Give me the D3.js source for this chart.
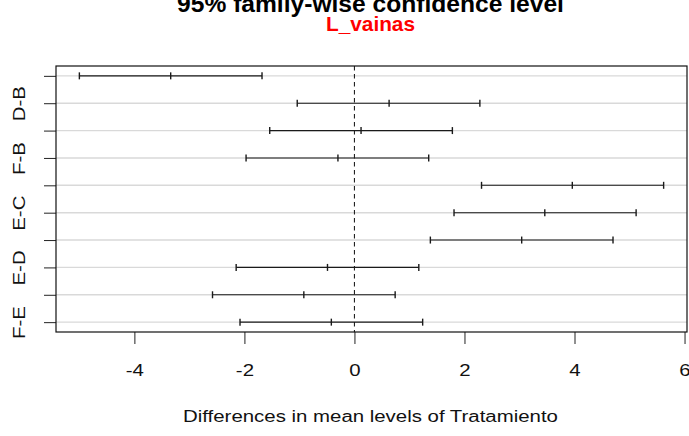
<!DOCTYPE html>
<html>
<head>
<meta charset="utf-8">
<script src="https://cdn.jsdelivr.net/npm/d3@7"></script>
<style>
  html, body { margin: 0; padding: 0; background: #ffffff; }
  svg { display: block; }
  text { font-family: "Liberation Sans", Arial, sans-serif; }
</style>
</head>
<body>
<script>
// Tukey HSD pairwise comparisons of L_vainas between Tratamiento levels
const comparisons = ["C-B", "D-B", "E-B", "F-B", "D-C", "E-C", "F-C", "E-D", "F-D", "F-E"];
const diffs  = [-3.34, 0.63, 0.12, -0.30, 3.96, 3.46, 3.04, -0.49, -0.92, -0.42];
const lower  = [-5.00, -1.04, -1.54, -1.97, 2.31, 1.81, 1.38, -2.15, -2.58, -2.08];
const upper  = [-1.68, 2.28, 1.78, 1.35, 5.62, 5.12, 4.70, 1.17, 0.74, 1.24];
const xTicks = [-4, -2, 0, 2, 4, 6];
// only every other comparison gets a label on the y axis
const shownLabels = ["D-B", "F-B", "E-C", "E-D", "F-E"];

const mainTitle = "95% family-wise confidence level";
const subTitle = "L_vainas";
const xTitle = "Differences in mean levels of Tratamiento";

const W = 689, H = 436;
const plot = { left: 56, right: 687, top: 66, bottom: 332 };
const stretch = 1.18;   // wide glyph proportions of the axis font

const svg = d3.select("body").append("svg")
  .attr("width", W).attr("height", H);
svg.append("rect").attr("width", W).attr("height", H).attr("fill", "#ffffff");

// axis ranges padded by 4% on each side
const n = comparisons.length;
const xmin = d3.min(lower), xmax = d3.max(upper);
const xpad = (xmax - xmin) * 0.04;
const x = d3.scaleLinear().domain([xmin - xpad, xmax + xpad]).range([plot.left, plot.right]);
const ypad = (n - 1) * 0.04;
const y = d3.scaleLinear().domain([1 - ypad, n + ypad]).range([plot.bottom, plot.top]);

const rows = comparisons.map((c, i) => ({
  name: c, yv: n - i, diff: diffs[i], lwr: lower[i], upr: upper[i]
}));

// horizontal light grid at each comparison
svg.append("g").selectAll("line").data(rows).join("line")
  .attr("x1", plot.left).attr("x2", plot.right)
  .attr("y1", d => y(d.yv)).attr("y2", d => y(d.yv))
  .attr("stroke", "#d9d9d9").attr("stroke-width", 1.4);

// zero reference
svg.append("line")
  .attr("x1", x(0)).attr("x2", x(0))
  .attr("y1", plot.top).attr("y2", plot.bottom)
  .attr("stroke", "#222").attr("stroke-width", 1.1)
  .attr("stroke-dasharray", "4.5,3.5");

// confidence intervals
const bars = svg.append("g").attr("stroke", "#1a1a1a");
bars.selectAll("line.ci").data(rows).join("line").attr("class", "ci")
  .attr("x1", d => x(d.lwr)).attr("x2", d => x(d.upr))
  .attr("y1", d => y(d.yv)).attr("y2", d => y(d.yv))
  .attr("stroke-width", 1.1);
const caps = rows.flatMap(d => [
  { xv: d.lwr, yv: d.yv }, { xv: d.diff, yv: d.yv }, { xv: d.upr, yv: d.yv }
]);
bars.selectAll("line.cap").data(caps).join("line").attr("class", "cap")
  .attr("x1", d => x(d.xv)).attr("x2", d => x(d.xv))
  .attr("y1", d => y(d.yv) - 3.5).attr("y2", d => y(d.yv) + 3.5)
  .attr("stroke-width", 1.4);

// x axis
const gx = svg.append("g")
  .attr("transform", `translate(0,${plot.bottom})`)
  .call(d3.axisBottom(x).tickValues(xTicks).tickSize(12).tickFormat(d3.format("d")));
gx.select(".domain").remove();
gx.selectAll(".tick line").attr("stroke", "#222").attr("stroke-width", 1);
gx.selectAll(".tick text")
  .attr("y", null).attr("dy", null)
  .attr("transform", `translate(0,43.5) scale(${stretch},1)`)
  .attr("font-size", 17.3).attr("fill", "#111")
  .text(d => d < 0 ? "-" + Math.abs(d) : d);

// y axis: a tick per comparison, labels on alternate rows
const gy = svg.append("g")
  .attr("transform", `translate(${plot.left},0)`)
  .call(d3.axisLeft(y).tickValues(rows.map(d => d.yv)).tickSize(12)
    .tickFormat(v => {
      const name = comparisons[n - v];
      return shownLabels.includes(name) ? name : "";
    }));
gy.select(".domain").remove();
gy.selectAll(".tick line").attr("stroke", "#222").attr("stroke-width", 1);
gy.selectAll(".tick text")
  .attr("x", null).attr("dy", null)
  .attr("text-anchor", "middle")
  .attr("transform", `translate(-31.5,0) rotate(-90) scale(${stretch},1)`)
  .attr("font-size", 17.3).attr("fill", "#111");

// plot frame
svg.append("rect")
  .attr("x", plot.left).attr("y", plot.top)
  .attr("width", plot.right - plot.left).attr("height", plot.bottom - plot.top)
  .attr("fill", "none").attr("stroke", "#111").attr("stroke-width", 1.2);

// titles
const cx = (plot.left + plot.right) / 2;
svg.append("text")
  .attr("transform", `translate(${cx - 1},11.5)`)
  .attr("text-anchor", "middle").attr("font-size", 24.6).attr("font-weight", "bold")
  .attr("fill", "#000").text(mainTitle);
svg.append("text")
  .attr("transform", `translate(${cx - 1},31)`)
  .attr("text-anchor", "middle").attr("font-size", 20.8).attr("font-weight", "bold")
  .attr("fill", "#ff0000").text(subTitle);
svg.append("text")
  .attr("transform", `translate(${cx - 1},422) scale(${stretch},1)`)
  .attr("text-anchor", "middle").attr("font-size", 17.3)
  .attr("fill", "#111").text(xTitle);
</script>
</body>
</html>
